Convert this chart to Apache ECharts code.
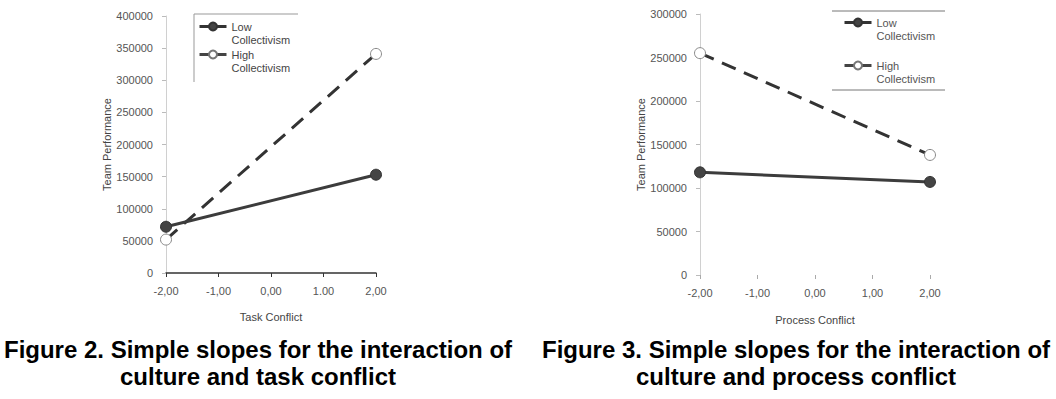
<!DOCTYPE html>
<html>
<head>
<meta charset="utf-8">
<script src="https://cdn.jsdelivr.net/npm/echarts@6/dist/echarts.min.js"></script>
<style>
html,body{margin:0;padding:0;background:#fff;}
#c{width:1056px;height:399px;}
</style>
</head>
<body>
<div id="c"></div>
<script>
// ---- data ----
const xTicks = [-2, -1, 0, 1, 2];
const taskTickLabels = ['-2,00', '-1,00', '0,00', '1.00', '2,00'];
const processTickLabels = ['-2,00', '-1,00', '0,00', '1,00', '2,00'];
const conflictLevels = [-2, 2];
const taskLow = [72000, 153000];
const taskHigh = [52000, 341000];
const processLow = [118000, 107000];
const processHigh = [255000, 138000];
const seriesNames = ['Low Collectivism', 'High Collectivism'];
const titles = [
  'Figure 2. Simple slopes for the interaction of\nculture and task conflict',
  'Figure 3. Simple slopes for the interaction of\nculture and process conflict'
];

const FONT = '"Liberation Sans", Arial, sans-serif';
const pair = (vals) => conflictLevels.map((x, i) => [x, vals[i]]);

function xAxis(gridIndex, labels, name, nameGap, showLine) {
  return {
    type: 'value', gridIndex, min: -2, max: 2, interval: 1,
    name, nameLocation: 'middle', nameGap,
    nameTextStyle: { fontFamily: FONT, fontSize: 11, color: '#444' },
    axisLine: { show: showLine, onZero: false, lineStyle: { color: '#333', width: 1.5 } },
    axisTick: { show: true, inside: false, length: 4, lineStyle: { color: showLine ? '#333' : '#aaa' } },
    axisLabel: {
      margin: 12, fontFamily: FONT, fontSize: 11, color: '#555',
      formatter: (v) => labels[xTicks.indexOf(Math.round(v))] || ''
    },
    splitLine: { show: false }
  };
}
function yAxis(gridIndex, max, nameGap) {
  return {
    type: 'value', gridIndex, min: 0, max, interval: 50000,
    name: 'Team Performance', nameLocation: 'middle', nameGap,
    nameTextStyle: { fontFamily: FONT, fontSize: 11, color: '#444' },
    axisLine: { show: true, onZero: false, lineStyle: { color: '#d0d0d0', width: 1 } },
    axisTick: { show: true, inside: false, length: 4, lineStyle: { color: '#bbb' } },
    axisLabel: { margin: 13, fontFamily: FONT, fontSize: 11, color: '#555', formatter: (v) => String(v) },
    splitLine: { show: false }
  };
}
function lowSeries(idx, vals) {
  return {
    name: seriesNames[0], type: 'line', xAxisIndex: idx, yAxisIndex: idx,
    data: pair(vals), symbol: 'circle', symbolSize: 11,
    lineStyle: { color: '#3c3c3c', width: 3, type: 'solid' },
    itemStyle: { color: '#444', borderColor: '#333', borderWidth: 1 },
    emphasis: { disabled: true }, animation: false, z: 3
  };
}
function highSeries(idx, vals) {
  return {
    name: seriesNames[1], type: 'line', xAxisIndex: idx, yAxisIndex: idx,
    data: pair(vals), symbol: 'circle', symbolSize: 11,
    lineStyle: { color: '#333', width: 3, type: [15, 9] },
    itemStyle: { color: '#fff', borderColor: '#888', borderWidth: 1 },
    emphasis: { disabled: true }, animation: false, z: 2
  };
}
function legend(left, top, gap, color) {
  return {
    orient: 'vertical', left, top, padding: 0, itemGap: gap,
    itemWidth: 27, itemHeight: 10, selectedMode: false,
    formatter: (n) => '\n' + n.replace(' ', '\n'),
    textStyle: { fontFamily: FONT, fontSize: 11, color, lineHeight: 13 },
    data: [
      { name: seriesNames[0], itemStyle: { color: '#444', borderColor: '#333' }, lineStyle: { type: 'solid', color: '#333', width: 3 } },
      { name: seriesNames[1], itemStyle: { color: '#fff', borderColor: '#777' }, lineStyle: { type: 'solid', color: '#444', width: 3 } }
    ]
  };
}

const chart = echarts.init(document.getElementById('c'), null, { renderer: 'svg' });
chart.setOption({
  animation: false,
  backgroundColor: '#fff',
  grid: [
    { left: 166, top: 16, width: 210, height: 257 },
    { left: 700, top: 14, width: 230, height: 261 }
  ],
  xAxis: [
    xAxis(0, taskTickLabels, 'Task Conflict', 38, true),
    xAxis(1, processTickLabels, 'Process Conflict', 39, false)
  ],
  yAxis: [yAxis(0, 400000, 49), yAxis(1, 300000, 51)],
  legend: [legend(198, 7, -11, '#444'), legend(843, 3, 4, '#555')],
  series: [
    lowSeries(0, taskLow), highSeries(0, taskHigh),
    lowSeries(1, processLow), highSeries(1, processHigh)
  ],
  graphic: [
    { type: 'polyline', silent: true, shape: { points: [[194, 82], [194, 14], [298, 14]] }, style: { stroke: '#999', fill: null, lineWidth: 1 } },
    { type: 'line', silent: true, shape: { x1: 832, y1: 11, x2: 945, y2: 11 }, style: { stroke: '#777', lineWidth: 1 } },
    { type: 'line', silent: true, shape: { x1: 832, y1: 90, x2: 945, y2: 90 }, style: { stroke: '#777', lineWidth: 1 } },
    { type: 'text', x: 258, y: 336, style: { text: titles[0], align: 'center', verticalAlign: 'top', font: 'bold 24px ' + FONT, lineHeight: 27, fill: '#000' } },
    { type: 'text', x: 796, y: 336, style: { text: titles[1], align: 'center', verticalAlign: 'top', font: 'bold 24px ' + FONT, lineHeight: 27, fill: '#000' } }
  ]
});
</script>
</body>
</html>
